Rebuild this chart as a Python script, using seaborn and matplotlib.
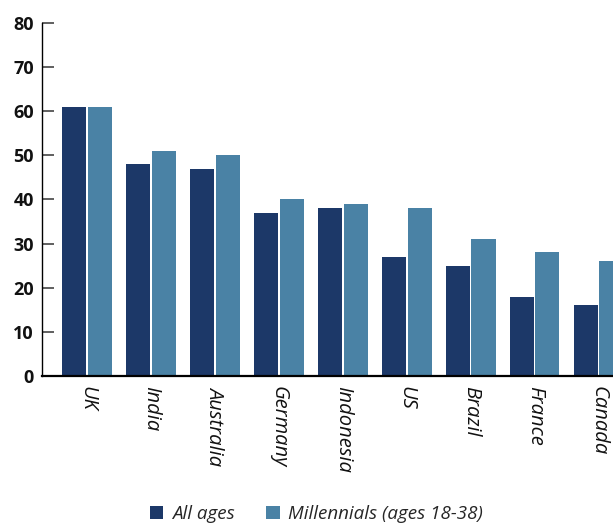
import matplotlib
matplotlib.use("Agg")
import matplotlib.pyplot as plt
import seaborn as sns
import pandas as pd

countries = ["UK", "India", "Australia", "Germany", "Indonesia", "US", "Brazil", "France", "Canada"]
all_ages = [61, 48, 47, 37, 38, 27, 25, 18, 16]
millennials = [61, 51, 50, 40, 39, 38, 31, 28, 26]
series_names = ["All ages", "Millennials (ages 18-38)"]
y_ticks = [0, 10, 20, 30, 40, 50, 60, 70, 80]

df = pd.DataFrame({
    "country": countries * 2,
    "value": all_ages + millennials,
    "group": [series_names[0]] * len(countries) + [series_names[1]] * len(countries),
})

sns.set_theme(style="white")
plt.rcParams["font.family"] = ["Open Sans", "DejaVu Sans"]

fig = plt.figure(figsize=(6.13, 5.25), dpi=100)
ax = fig.add_axes([42 / 613, 149 / 525, 595 / 613, 353 / 525])

sns.barplot(data=df, x="country", y="value", hue="group", order=countries,
            hue_order=series_names, palette=["#1c3868", "#4a82a5"],
            width=0.8, gap=0.06, saturation=1, linewidth=0, ax=ax, legend=True)

ax.set_xlim(-0.703, 8.6)
ax.set_ylim(0, 80)
ax.set_yticks(y_ticks)
ax.set_xlabel("")
ax.set_ylabel("")

for s in ["top", "right"]:
    ax.spines[s].set_visible(False)
ax.spines["left"].set_color("black")
ax.spines["left"].set_linewidth(1.0)
ax.spines["bottom"].set_color("black")
ax.spines["bottom"].set_linewidth(1.6)

ax.tick_params(axis="y", left=True, direction="in", length=8.5, width=1.2,
               color="#444444", pad=6, labelsize=13)
for lbl in ax.get_yticklabels():
    lbl.set_fontweight("bold")
    lbl.set_color("#111111")

ax.tick_params(axis="x", bottom=False, length=0, pad=7, labelsize=14.5)
ax.set_xticks(range(len(countries)))
ax.set_xticklabels(countries, rotation=-90, fontstyle="italic", color="#111111",
                   va="top", ha="center")

handles, labels = ax.get_legend_handles_labels()
ax.get_legend().remove()
fig.legend(handles, labels, loc="center", bbox_to_anchor=(0.516, 0.021), ncol=2,
           frameon=False, handlelength=0.72, handleheight=0.72, handletextpad=0.45,
           columnspacing=1.7, prop={"style": "italic", "size": 13.5})

fig.savefig("out.png", dpi=100)
